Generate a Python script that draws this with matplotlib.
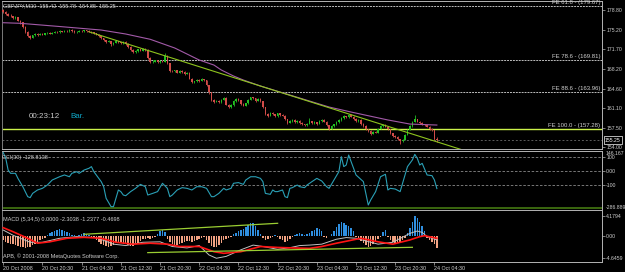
import matplotlib
matplotlib.use("Agg")
import matplotlib.pyplot as plt
from matplotlib.transforms import blended_transform_factory as btf

plt.rcParams['font.family'] = ['Liberation Sans', 'DejaVu Sans']

# ---------------- data ----------------
opens = [178.80,178.55,178.15,177.85,177.75,177.40,177.55,176.95,176.60,175.80,
         174.90,174.10,173.85,174.25,174.45,174.35,174.55,174.40,174.60,174.70,
         174.55,174.75,174.90,174.80,175.00,174.95,175.10,175.00,175.25,175.05,
         174.80,174.90,175.10,175.00,175.15,175.05,174.95,174.80,174.60,174.40,
         174.10,173.70,173.40,173.10,173.20,172.60,172.90,173.20,173.00,172.80,
         173.10,172.70,172.20,171.60,171.20,171.40,171.70,171.50,171.80,171.60,
         170.20,169.40,169.50,169.70,169.40,169.60,169.50,170.50,169.20,167.80,
         167.70,167.90,167.50,167.80,167.60,167.30,167.50,166.40,165.70,165.90,
         166.20,166.00,166.30,166.10,165.20,163.90,162.60,162.20,162.40,162.10,
         162.60,162.90,161.70,161.20,161.60,162.30,162.70,162.50,161.80,161.50,
         161.90,162.60,163.00,162.80,162.40,162.70,162.30,161.20,160.00,159.70,
         160.20,159.90,159.60,160.10,159.80,159.70,159.00,158.40,158.70,158.90,
         158.50,158.80,158.40,158.10,157.90,158.20,158.70,158.30,158.50,158.20,
         158.70,158.90,158.60,157.90,157.30,157.80,158.10,158.50,158.90,159.20,
         159.60,159.40,159.80,159.50,159.10,158.70,158.90,158.20,157.80,157.20,
         156.90,156.40,156.80,156.60,157.30,157.80,158.00,157.70,157.20,156.50,
         156.00,155.80,155.40,155.00,155.30,156.20,157.10,157.80,158.60,159.00,
         158.60,158.40,158.10,157.90,157.70,157.30,157.00,155.42]
closes = [178.55,178.15,177.85,177.75,177.40,177.55,176.95,176.60,175.80,174.90,
          174.10,173.85,174.25,174.45,174.35,174.55,174.40,174.60,174.70,174.55,
          174.75,174.90,174.80,175.00,174.95,175.10,175.00,175.25,175.05,174.80,
          174.90,175.10,175.00,175.15,175.05,174.95,174.80,174.60,174.40,174.10,
          173.70,173.40,173.10,173.20,172.60,172.90,173.20,173.00,172.80,173.10,
          172.70,172.20,171.60,171.20,171.40,171.70,171.50,171.80,171.60,170.20,
          169.40,169.50,169.70,169.40,169.60,169.50,170.50,169.20,167.80,167.70,
          167.90,167.50,167.80,167.60,167.30,167.50,166.40,165.70,165.90,166.20,
          166.00,166.30,166.10,165.20,163.90,162.60,162.20,162.40,162.10,162.60,
          162.90,161.70,161.20,161.60,162.30,162.70,162.50,161.80,161.50,161.90,
          162.60,163.00,162.80,162.40,162.70,162.30,161.20,160.00,159.70,160.20,
          159.90,159.60,160.10,159.80,159.70,159.00,158.40,158.70,158.90,158.50,
          158.80,158.40,158.10,157.90,158.20,158.70,158.30,158.50,158.20,158.70,
          158.90,158.60,157.90,157.30,157.80,158.10,158.50,158.90,159.20,159.60,
          159.40,159.80,159.50,159.10,158.70,158.90,158.20,157.80,157.20,156.90,
          156.40,156.80,156.60,157.30,157.80,158.00,157.70,157.20,156.50,156.00,
          155.80,155.40,155.00,155.30,156.20,157.10,157.80,158.60,159.00,158.60,
          158.40,158.10,157.90,157.70,157.30,157.00,155.42,155.25]
highs = [178.95,178.65,178.30,178.05,177.85,177.70,177.65,177.10,176.70,175.95,
         175.05,174.30,174.40,174.60,174.65,174.70,174.65,174.75,174.85,174.80,
         174.90,175.05,175.00,175.15,175.10,175.25,175.20,175.40,175.35,175.15,
         175.05,175.25,175.20,175.30,175.25,175.15,175.05,174.90,174.70,174.50,
         174.20,173.85,173.50,173.35,173.30,173.05,173.40,173.30,173.10,173.25,
         173.20,172.80,172.30,171.70,171.55,171.85,171.80,171.95,171.90,171.70,
         170.30,169.70,169.85,169.80,169.75,169.70,171.00,170.60,169.30,167.95,
         168.05,168.00,167.95,167.90,167.70,167.65,167.60,166.50,166.05,166.40,
         166.30,166.50,166.40,166.20,165.30,164.00,162.75,162.60,162.50,162.75,
         163.05,163.00,161.80,161.75,162.45,162.90,162.80,162.60,161.90,162.05,
         162.75,163.15,163.10,162.90,162.85,162.80,162.40,161.30,160.15,160.35,
         160.30,160.00,160.25,160.20,159.95,159.80,159.10,158.85,159.10,159.00,
         158.95,158.90,158.50,158.20,158.35,159.20,158.80,158.65,158.60,158.85,
         159.05,159.00,158.70,158.00,157.95,158.25,158.65,159.05,159.40,159.80,
         159.70,160.05,159.90,159.60,159.20,159.05,159.00,158.30,157.90,157.30,
         157.00,156.95,156.90,157.45,157.95,158.20,158.10,157.80,157.30,156.60,
         156.10,155.90,155.50,155.45,156.35,157.25,158.00,158.80,159.80,159.10,
         158.70,158.50,158.20,158.00,157.80,157.40,157.10,155.78]
lows = [178.40,178.00,177.70,177.60,177.25,177.30,176.85,176.40,175.60,174.70,
        173.90,173.65,173.75,174.10,174.20,174.25,174.30,174.30,174.50,174.45,
        174.45,174.65,174.70,174.70,174.85,174.85,174.90,174.90,174.95,174.70,
        174.70,174.80,174.90,174.90,174.95,174.85,174.70,174.50,174.30,174.00,
        173.55,173.25,172.95,173.00,172.40,172.45,172.80,172.85,172.65,172.70,
        172.55,172.05,171.45,171.05,171.10,171.30,171.40,171.40,171.45,170.00,
        169.20,169.25,169.40,169.30,169.30,169.35,169.45,169.05,167.60,167.55,
        167.60,167.35,167.40,167.45,167.15,167.20,166.25,165.55,165.60,165.80,
        165.85,165.90,165.95,165.05,163.70,162.40,162.00,162.10,161.95,162.00,
        162.50,161.55,161.00,161.10,161.50,162.20,162.35,161.65,161.35,161.40,
        161.80,162.50,162.65,162.25,162.30,162.15,161.05,159.80,159.50,159.60,
        159.75,159.45,159.50,159.65,159.55,158.85,158.20,158.30,158.60,158.35,
        158.40,158.25,157.95,157.75,157.80,158.10,158.15,158.20,158.05,158.10,
        158.60,158.45,157.75,157.10,157.20,157.70,158.00,158.40,158.80,159.10,
        159.25,159.30,159.35,158.95,158.55,158.60,158.05,157.65,157.05,156.70,
        156.20,156.30,156.45,156.50,157.20,157.70,157.55,157.05,156.35,155.85,
        155.60,155.20,154.55,154.90,155.20,156.10,157.00,157.70,158.50,158.45,
        158.25,157.95,157.75,157.55,157.15,156.85,155.30,154.85]

ma_idx = [0, 7, 23, 40, 50, 60, 70, 80, 86, 89, 94, 98, 105, 113, 121, 133, 142, 157, 166, 177]
ma_val = [176.55, 176.44, 175.86, 175.22, 174.50, 173.54, 171.96, 169.78, 168.87, 167.97,
          166.88, 166.15, 165.06, 163.97, 162.88, 161.25, 160.34, 158.90, 158.16, 157.98]

trend_x = [35, 200]
trend_y = [174.90, 151.70]

fe_names = ["FE 61.8 - (179.67)", "FE 78.6 - (169.81)", "FE 88.6 - (163.96)", "FE 100.0 - (157.28)"]
fe_prices = [179.67, 169.81, 163.96, 157.28]
bid_price = 155.25

price_ticks = [178.80, 175.20, 171.70, 168.20, 164.60, 161.10, 157.50, 154.00]

cci_idx = [0, 1, 2, 3, 5, 6, 8, 10, 11, 12, 14, 16, 18, 20, 23, 25, 27, 28, 30, 31,
           33, 35, 36, 37, 39, 40, 41, 42, 44, 45, 46, 47, 48, 49, 50, 52, 54, 56, 58, 59,
           61, 63, 65, 67, 68, 69, 71, 73, 75, 77, 79, 81, 83, 85, 86, 88, 90, 91, 93, 94,
           96, 98, 99, 101, 103, 105, 106, 107, 109, 110, 111, 112, 114, 115, 116, 117, 118, 120, 121, 123,
           124, 126, 128, 130, 132, 133, 135, 137, 138, 139, 140, 141, 143, 144, 147, 148, 149, 150, 152, 154,
           156, 157, 158, 160, 162, 163, 165, 167, 168, 169, 170, 171, 173, 175, 176, 177]
cci_val = [135, 95, 7, -17, -17, -54, -115, -188, -195, -164, -139, -127, -103, -66, -42, -29, -42, -17, -5, -17,
           7, 20, 32, -5, -54, -78, -115, -200, -261, -261, -200, -139, -151, -176, -181, -151, -127, -98, -115, -176,
           -164, -151, -90, -127, -188, -176, -139, -122, -127, -139, -115, -115, -127, -188, -188, -164, -127, -139, -127, -90,
           -85, -98, -66, -42, -42, -54, -78, -164, -171, -139, -151, -151, -139, -188, -195, -127, -122, -103, -115, -122,
           -103, -78, -54, -73, -115, -127, -66, -5, 105, 32, 44, 117, 20, -29, -78, -164, -249, -212, -151, -42,
           -24, -139, -127, -132, -151, -90, 32, 81, 122, 93, 44, 56, -29, -34, -66, -128.81]
cci_levels = [100, 0, -100]

macd_hist = [-1.0, -1.3, -1.5, -1.7, -1.8, -1.9, -2.1, -2.3, -2.5, -2.6,
             -2.5, -2.3, -2.0, -1.7, -1.4, -1.0, -0.7, -0.4, 0.2, 0.5,
             0.8, 1.0, 1.2, 1.4, 1.3, 1.1, 0.8, 0.5, 0.2, 0.1,
             -0.1, 0.1, 0.4, 0.5, 0.3, 0.1, -0.2, -0.5, -0.9, -1.3,
             -1.7, -2.0, -2.2, -2.3, -2.2, -1.9, -1.6, -1.4, -1.5, -1.7,
             -1.8, -2.0, -2.2, -2.1, -1.8, -1.5, -1.2, -0.8, -0.6, -0.5,
             -0.8, -0.4, -0.2, 0.3, 0.9, 1.2, 0.8, -0.6, -1.3, -1.8,
             -2.0, -1.9, -1.7, -1.5, -1.3, -1.1, -1.2, -1.4, -1.2, -0.9,
             -0.6, -0.4, -0.3, -1.0, -1.6, -2.1, -2.5, -2.4, -2.0, -1.5,
             -1.0, -0.8, -0.5, -0.2, 0.3, 0.6, 1.0, 1.2, 1.5, 1.9,
             2.2, 2.6, 2.7, 2.0, 1.2, 0.3, -0.5, -0.9, -0.8, -0.4,
             -0.2, 0.1, -0.2, -0.6, -1.0, -1.3, -1.1, -0.6, -0.2, 0.2,
             0.4, 0.5, 0.3, 0.2, 0.4, 0.6, 0.9, 1.3, 1.7, 1.5,
             0.9, -0.2, -0.4, -0.1, 0.4, 1.0, 1.8, 2.5, 2.9, 2.6,
             2.2, 2.0, 1.6, 0.9, -0.3, -0.8, -1.2, -1.6, -2.0, -2.3,
             -2.2, -1.8, -1.4, -0.8, -0.3, 0.7, 1.2, -0.3, -0.9, -1.3,
             -1.6, -1.5, -1.4, -1.0, -0.5, 0.6, 1.6, 3.0, 4.1794, 3.8,
             3.0, 2.0, 1.0, -0.5, -0.9, -1.3, -1.8, -2.6]

red_idx = [0, 4, 10, 14, 19, 26, 33, 40, 46, 53, 60, 67, 72, 80, 86, 90, 97, 105, 112, 118,
           125, 130, 136, 146, 153, 159, 166, 170, 172, 177]
red_val = [1.7, 0.85, -0.55, -1.6, -1.3, -0.55, -0.35, -0.55, -1.4, -1.8, -1.6, -1.8, -2.3, -2.3, -3.4, -3.75, -3.4, -2.3, -2.5, -2.6,
           -2.7, -2.3, -1.6, -0.55, -1.3, -1.8, -0.9, -0.2, 0.0, -0.55]
gray_idx = [0, 4, 11, 16, 23, 30, 38, 45, 50, 57, 64, 69, 75, 80, 84, 87, 91, 97, 102, 106,
            112, 117, 121, 125, 130, 136, 140, 144, 153, 159, 166, 169, 171, 173, 177]
gray_val = [1.2, 0.1, -1.4, -1.4, -0.55, -0.2, -0.4, -1.8, -2.1, -1.4, -1.3, -2.3, -2.6, -2.1, -4.1, -4.8, -4.4, -3.0, -2.0, -2.3,
            -2.9, -2.55, -2.1, -2.0, -1.8, -0.75, -0.4, -0.55, -1.8, -1.4, 0.5, 1.0, 0.7, -0.2, -0.9]
macd_trend_hi_x = [33, 112]
macd_trend_hi_y = [0.3, 2.64]
macd_trend_lo_x = [59, 167]
macd_trend_lo_y = [-3.6, -2.47]
macd_ticks = [4.1794, 0.0, -4.6459]
macd_tick_labels = ["4.1794", "0.00", "-4.6459"]

time_idx = [0, 16, 32, 48, 64, 80, 96, 112, 128, 144, 160, 176]
time_labels = ["20 Oct 2008", "20 Oct 20:30", "21 Oct 04:30", "21 Oct 12:30", "21 Oct 20:30",
               "22 Oct 04:30", "22 Oct 12:30", "22 Oct 20:30", "23 Oct 04:30", "23 Oct 12:30",
               "23 Oct 20:30", "24 Oct 04:30"]

# ---------------- styling ----------------
W, H = 625, 272
BG = 'black'
GRID = '#b4b4b4'
TXT = '#d0d0d0'
UP = '#22c022'
DN = '#d24c48'

fig = plt.figure(figsize=(W / 100, H / 100), dpi=100, facecolor=BG)


def add_panel(top, bottom):
    a = fig.add_axes([2 / W, 1 - bottom / H, 600 / W, (bottom - top) / H])
    a.set_facecolor(BG)
    a.set_xlim(-0.5, 244.4)
    for s in a.spines.values():
        s.set_color(GRID)
        s.set_linewidth(0.7)
    a.spines['left'].set_linestyle((0, (1, 1)))
    a.spines['left'].set_color('#7a7a7a')
    a.tick_params(axis='x', bottom=False, labelbottom=False)
    a.yaxis.tick_right()
    a.tick_params(axis='y', right=True, left=False, length=2, width=0.5, color=GRID,
                  labelcolor=TXT, labelsize=3.7, pad=1)
    return a


ax = add_panel(1, 149.3)
cx = add_panel(150.7, 209.5)
mx = add_panel(209.5, 262)

# ---- main price panel ----
ax.set_ylim(153.577, 180.49)
ax.set_yticks(price_ticks)
ax.set_yticklabels([f"{p:.2f}" for p in price_ticks])

for name, p in zip(fe_names, fe_prices):
    if name.startswith("FE 100"):
        ax.axhline(p, color='#ccf24a', lw=1.0, zorder=1)
    else:
        ax.axhline(p, color='#bdbdbd', lw=0.7, ls=(0, (2, 1)), zorder=1)
    ax.text(0.9967, p + 0.12, name, transform=btf(ax.transAxes, ax.transData),
            ha='right', va='bottom', fontsize=4.3, color=TXT, clip_on=False)

ax.axhline(bid_price, color='#5c5c5c', lw=0.7, ls=(0, (2, 2)), zorder=1)

xs = list(range(len(closes)))
cols = [UP if c >= o else DN for o, c in zip(opens, closes)]
ax.vlines(xs, lows, highs, colors=cols, lw=0.6, zorder=3)
body_h = [max(abs(c - o), 0.04) for o, c in zip(opens, closes)]
body_b = [min(o, c) for o, c in zip(opens, closes)]
ax.bar(xs, body_h, bottom=body_b, width=0.62, color=cols, linewidth=0, zorder=3)

ax.plot(ma_idx, ma_val, color='#a25aa8', lw=0.8, zorder=4)
ax.plot(trend_x, trend_y, color='#8ec41e', lw=0.8, zorder=4)

ax.text(1 + 3 / 600, bid_price, f"{bid_price:.2f}", transform=btf(ax.transAxes, ax.transData),
        ha='left', va='center', fontsize=3.7, color='white', clip_on=False,
        bbox=dict(boxstyle='square,pad=0.25', fc='black', ec='white', lw=0.5), zorder=6)

fig.text(3 / W, 1 - 6 / H, "GBPJPY,M30  155.42  155.78  154.85  155.25", ha='left', va='center',
         fontsize=4.0, color=TXT)
fig.text(29 / W, 1 - 117 / H, "00:23:12", ha='left', va='center', fontsize=5.8, color='#c8c8c8')
fig.text(70 / W, 1 - 117 / H, "Bar.", ha='left', va='center', fontsize=5.8, color='#10a8c8')

# ---- CCI panel ----
cx.set_ylim(-282, 148.7)
for lv in cci_levels:
    cx.axhline(lv, color='#8a8a8a', lw=0.6, ls=(0, (3, 2)), zorder=1)
cx.axhline(-273, color='#3f6f10', lw=1.3, zorder=1)
cx.plot(cci_idx, cci_val, color='#2aa0b6', lw=0.8, zorder=3)
cx.set_yticks(cci_levels)
cx.set_yticklabels(["100", "0.00", "-100"])
tb = btf(cx.transAxes, cx.transData)
cx.text(1 + 4 / 600, 146.167, "146.167", transform=tb, ha='left', va='top', fontsize=3.7,
        color=TXT, clip_on=False)
cx.text(1 + 4 / 600, -282, "-286.889", transform=tb, ha='left', va='bottom', fontsize=3.7,
        color=TXT, clip_on=False)
fig.text(2 / W, 1 - 157.5 / H, "CCI(30) -128.8138", ha='left', va='center', fontsize=4.0, color=TXT)

# ---- MACD panel ----
mx.set_ylim(-5.596, 5.574)
hcols = ['#2f8fe0' if v > 0 else '#f2a282' for v in macd_hist]
mx.bar(xs, macd_hist, width=0.62, color=hcols, linewidth=0, zorder=2)
mx.plot(gray_idx, gray_val, color='#c0c0c0', lw=0.7, zorder=3)
mx.plot(red_idx, red_val, color='#ff1414', lw=1.2, zorder=4)
mx.plot(macd_trend_hi_x, macd_trend_hi_y, color='#9acd32', lw=0.9, zorder=5)
mx.plot(macd_trend_lo_x, macd_trend_lo_y, color='#9acd32', lw=0.9, zorder=5)
mx.set_yticks(macd_ticks)
mx.set_yticklabels(macd_tick_labels)
fig.text(3 / W, 1 - 219 / H, "MACD (5,34,5) 0.0000 -2.3038 -1.2377 -0.4698", ha='left', va='center',
         fontsize=4.0, color=TXT)
fig.text(3 / W, 1 - 256.5 / H, "APB, \u00a9 2001-2008 MetaQuotes Software Corp.", ha='left',
         va='center', fontsize=4.0, color=TXT)

mx.set_xticks(time_idx)
mx.set_xticklabels(time_labels)
mx.tick_params(axis='x', bottom=True, labelbottom=True, length=2, width=0.5, color=GRID,
               labelcolor=TXT, labelsize=3.9, pad=0.8)
for lbl in mx.get_xticklabels():
    lbl.set_ha('left')

fig.savefig("out.png", dpi=100, facecolor=BG)
